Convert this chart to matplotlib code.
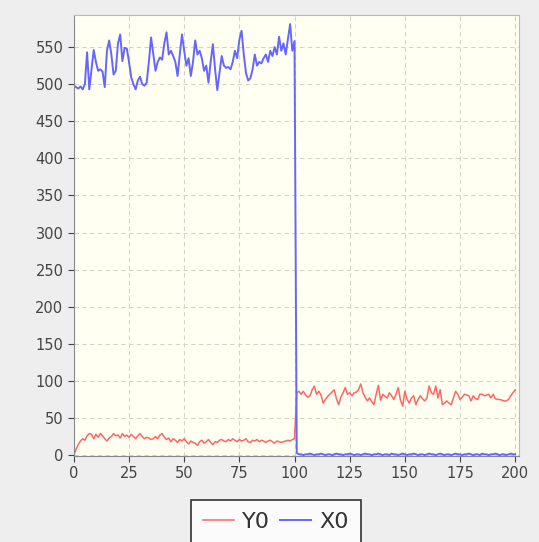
import numpy as np
import matplotlib
matplotlib.use("Agg")
import matplotlib.pyplot as plt

# samples 0..200
steps = np.arange(0, 201)

x0_first = [498, 496, 494, 497, 493, 500, 543, 493, 520, 546,
            530, 518, 520, 517, 496, 545, 559, 540, 513, 518,
            555, 567, 531, 549, 548, 530, 509, 500, 493, 505,
            510, 500, 498, 502, 530, 563, 540, 518, 530, 536,
            533, 555, 570, 540, 545, 538, 530, 511, 540, 567,
            545, 525, 535, 511, 530, 559, 540, 545, 535, 518,
            525, 502, 530, 554, 520, 492, 515, 538, 525, 522,
            523, 520, 530, 545, 535, 560, 572, 540, 515, 505,
            508, 520, 540, 525, 530, 528, 535, 540, 530, 545,
            538, 550, 540, 564, 545, 555, 540, 560, 581, 545,
            558]
x0_second = [3, 1, 1, 0, 1, 1, 2, 1, 0, 1,
             1, 2, 1, 0, 1, 1, 0, 1, 2, 1,
             1, 0, 1, 1, 2, 1, 0, 1, 1, 0,
             1, 2, 1, 1, 0, 1, 1, 2, 1, 0,
             1, 1, 0, 2, 1, 1, 0, 1, 2, 1,
             0, 1, 1, 2, 1, 0, 1, 1, 0, 1,
             2, 1, 1, 0, 1, 2, 1, 0, 1, 1,
             0, 1, 2, 1, 1, 0, 1, 1, 2, 1,
             0, 1, 1, 0, 2, 1, 1, 0, 1, 1,
             2, 1, 0, 1, 1, 0, 1, 2, 1, 1]

y0_first = [0, 8, 14, 19, 22, 20, 26, 29, 28, 22,
            28, 24, 29, 26, 22, 19, 23, 25, 29, 26,
            27, 23, 29, 25, 27, 24, 28, 25, 22, 26,
            29, 25, 22, 24, 23, 21, 22, 25, 22, 27,
            29, 24, 21, 23, 18, 22, 20, 17, 21, 19,
            22, 18, 15, 19, 17, 16, 13, 18, 20, 16,
            18, 21, 17, 14, 18, 17, 20, 21, 19, 18,
            21, 19, 22, 20, 18, 21, 19, 20, 22, 18,
            17, 20, 19, 21, 18, 20, 19, 17, 19, 20,
            18, 16, 19, 18, 17, 18, 19, 20, 19, 21,
            22]
y0_second = [84, 86, 82, 86, 81, 78, 80, 88, 93, 82,
             86, 81, 70, 75, 79, 82, 85, 88, 76, 68,
             78, 84, 91, 82, 84, 80, 84, 85, 88, 96,
             84, 78, 73, 77, 72, 68, 82, 94, 74, 82,
             79, 77, 84, 80, 75, 82, 91, 74, 66, 86,
             75, 70, 77, 80, 68, 75, 80, 76, 73, 77,
             93, 84, 82, 93, 77, 88, 68, 70, 73, 70,
             68, 77, 86, 82, 75, 78, 82, 81, 80, 73,
             80, 76, 75, 82, 82, 80, 81, 82, 77, 82,
             76, 75, 75, 74, 73, 73, 75, 80, 84, 88]

x0 = x0_first + x0_second
y0 = y0_first + y0_second

fig = plt.figure(figsize=(5.39, 5.42), dpi=100, facecolor='#EEEEEE')
ax = fig.add_axes([0.137, 0.159, 0.825, 0.813])
ax.set_facecolor('#FFFFF2')

ax.plot(steps, y0, '-', color='#FF6666', lw=1.1, label='Y0')
ax.plot(steps, x0, '-', color='#6666FF', lw=1.4, label='X0')

ax.set_xlim(0, 201.5)
ax.set_ylim(-1, 593)
ax.set_xticks(np.arange(0, 201, 25))
ax.set_yticks(np.arange(0, 551, 50))
ax.grid(True, ls=(0, (4, 3)), color='#D4D4CC', lw=0.8)
ax.tick_params(labelsize=10.5, colors='#444444', length=4, width=0.8)
for s in ax.spines.values():
    s.set_color('#BBBBBB')
ax.spines['left'].set_color('#888888')
ax.spines['bottom'].set_color('#888888')

leg = fig.legend(loc='lower center', bbox_to_anchor=(0.512, -0.004), ncol=2,
                 fontsize=16, frameon=True, fancybox=False, handlelength=1.4,
                 handletextpad=0.35, columnspacing=0.45, borderpad=0.55,
                 borderaxespad=0.0)
leg.get_frame().set_edgecolor('black')
leg.get_frame().set_linewidth(1.2)
for t in leg.get_texts():
    t.set_color('#333333')

fig.savefig('out.png', dpi=100, facecolor=fig.get_facecolor())
